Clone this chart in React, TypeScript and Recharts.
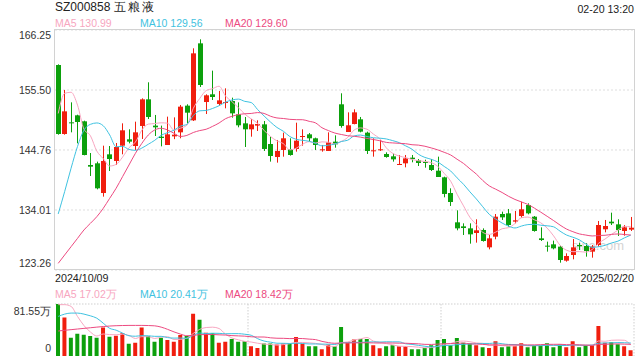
import React from 'react';
import { ComposedChart, Bar, Line, XAxis, YAxis, CartesianGrid, Cell } from 'recharts';

const opens = [159.98,147.62,149.71,150.97,149.89,142.07,142.37,137.05,143.98,142.79,145.53,146.67,145.47,149.06,153.83,149.12,147.14,145.65,147.2,147.92,152.70,150.07,163.86,153.35,154.73,153.00,153.23,153.53,151.14,149.53,148.46,149.12,149.35,145.83,143.50,144.76,144.88,144.94,147.08,147.56,146.85,144.70,144.58,146.25,152.94,147.98,149.41,150.25,147.86,144.58,144.70,144.04,143.62,142.07,142.37,143.38,142.91,142.61,142.07,141.05,139.86,137.05,131.80,131.08,130.72,129.89,130.43,127.32,129.23,133.29,133.41,131.92,132.93,134.90,132.81,128.93,127.62,127.86,127.44,124.93,125.95,127.74,127.56,126.55,127.74,130.55,131.92,131.44,130.25,130.49];
const highs = [160.1,155.50,153.29,151.08,150.01,144.22,142.67,145.53,145.47,146.01,149.53,148.46,149.83,154.01,156.88,151.03,149.12,150.73,150.6,152.82,152.94,162.97,164.58,154.73,158.97,155.32,155.80,154.13,153.29,150.67,150.31,150.07,149.95,147.14,146.55,147.86,146.85,149.65,148.46,147.80,146.97,145.65,147.92,147.38,154.91,151.50,152.04,150.67,148.04,146.85,146.55,144.34,144.10,143.86,143.86,143.86,143.14,143.02,143.14,143.56,139.98,137.89,133.95,131.62,131.62,132.34,130.72,129.53,133.29,133.71,134.19,133.83,135.50,135.20,132.93,130.90,128.34,128.52,127.62,126.25,128.81,128.16,128.04,127.74,132.04,132.22,133.53,132.34,131.32,132.76];
const lows = [147.5,147.50,147.92,145.95,143.80,140.10,137.71,136.40,140.99,142.07,143.98,145.95,144.76,146.73,150.31,147.26,145.41,145.65,146.7,146.85,149.53,149.95,156.04,151.20,153.71,152.70,152.22,150.55,148.82,145.29,147.14,148.16,144.58,142.67,142.49,143.56,143.74,144.46,145.53,146.25,144.76,144.46,144.58,145.17,148.76,147.98,149.35,147.92,144.04,143.56,144.58,143.38,142.67,142.07,141.65,142.55,141.89,141.59,140.99,139.92,136.28,134.73,130.37,129.53,127.98,128.16,128.34,126.96,128.76,132.22,131.02,131.62,132.63,133.23,130.13,128.46,126.55,126.96,124.57,124.75,125.17,126.84,125.65,125.47,127.44,130.01,131.32,129.35,129.41,130.25];
const closes = [147.62,151.68,149.53,149.77,143.86,141.77,137.89,142.79,143.14,145.29,148.28,146.25,147.92,153.83,150.67,148.82,146.91,147.56,147.5,152.52,151.44,162.07,156.40,154.55,154.25,153.65,153.35,151.32,149.18,148.46,149.35,149.41,144.94,143.68,144.58,146.85,143.86,146.43,147.26,146.85,145.65,144.88,146.13,145.77,149.06,149.18,151.50,148.04,144.58,144.70,144.88,143.50,143.08,142.25,143.26,143.14,142.43,142.43,141.17,139.92,136.88,135.44,130.72,130.78,129.65,130.37,128.46,128.93,132.81,132.69,131.32,132.16,134.13,133.41,130.25,128.63,127.44,127.14,125.05,125.77,127.32,127.50,126.66,127.44,131.32,131.14,131.62,130.43,130.90,130.84];
const volumes = [81.55,60.4,28.6,34.9,33.4,31.2,28.6,44.5,30.2,31.8,35.5,19.1,20.7,44.5,31.2,22.2,28.6,24.9,22.2,32.8,31.2,66.2,56.7,36.5,35.5,20.7,22.2,26.5,22.2,23.3,15.4,12.7,19.6,19.6,18.0,19.6,19.6,29.7,19.1,15.4,15.4,10.6,18.0,15.4,45.5,20.7,25.9,26.5,26.5,16.9,12.2,15.4,16.9,15.4,15.4,10.6,10.6,12.7,16.9,24.9,26.5,16.9,28.1,20.7,19.6,16.9,13.8,12.7,23.3,13.8,15.4,15.4,20.1,13.8,16.9,16.9,20.1,13.8,18.0,13.8,23.3,13.8,16.9,16.9,47.1,20.7,21.7,18.5,15.4,9.0];

// moving-average values for the first days (their windows reach before the first shown day)
const ma5Start = [151.3,154.9,155.1,152.8];
const ma10Start = [133.3,137.3,141.5,145.4,148.3,149.35,149.6,149.1,147.45];
const ma20Start = [124.45,125.95,127.44,128.93,130.43,131.62,132.81,134.31,136.1,137.9,139.98,142.07,144.16,145.95,147.44,148.34,148.64,148.34,147.74];
const vma5Start = [80.5,80.5,77.8,62];
const vma10Start = [62,65.7,67.3,67.3,65.7,63,59.3,51.4,43.4];
const vma20Start = [39.2,40.3,41.3,42.3,43.3,44.3,45.3,46.2,47,47.5,47.8,48,48,48,47.8,47.3,45.3,41.8,37.8];

const priceTicks = [123.26,134.01,144.76,155.50,166.25];
const volumeTicks = [0,81.55];
const dateLabels = ['2024/10/09','2025/02/20'];
const titleCode = 'SZ000858';
const titleName = '五粮液';
const timeLabel = '02-20 13:20';
const priceLegend = [['MA5','130.99'],['MA10','129.56'],['MA20','129.60']];
const volumeLegend = [['MA5','17.02万'],['MA10','20.41万'],['MA20','18.42万']];

const RED = '#f01e0e';
const GREEN = '#0ca00c';
const MA_COLORS = ['#f7a6c0','#3fc2e0','#ec4a80'];
const FONT = 'Arial, "Liberation Sans", sans-serif';

function movingAverage(values: number[], n: number, start: number[]) {
  return values.map((_, i) => {
    if (i < n - 1) return start[i];
    let s = 0;
    for (let k = i - n + 1; k <= i; k++) s += values[k];
    return s / n;
  });
}

const ma5 = movingAverage(closes, 5, ma5Start);
const ma10 = movingAverage(closes, 10, ma10Start);
const ma20 = movingAverage(closes, 20, ma20Start);
const vma5 = movingAverage(volumes, 5, vma5Start);
const vma10 = movingAverage(volumes, 10, vma10Start);
const vma20 = movingAverage(volumes, 20, vma20Start);

const data = opens.map((o, i) => ({
  i,
  open: o,
  high: highs[i],
  low: lows[i],
  close: closes[i],
  range: [lows[i], highs[i]],
  vol: volumes[i],
  ma5: ma5[i],
  ma10: ma10[i],
  ma20: ma20[i],
  vma5: vma5[i],
  vma10: vma10[i],
  vma20: vma20[i],
}));

const Candle = (props: any) => {
  const { x, y, width, height, payload } = props;
  if (payload == null || x == null) return null;
  const top = Math.min(y, y + height);
  const h = Math.abs(height);
  const { open, close, high, low } = payload;
  const ppu = h / (high - low || 1);
  const color = close >= open ? RED : GREEN;
  const bTop = top + (high - Math.max(open, close)) * ppu;
  const bH = Math.max(1, Math.abs(open - close) * ppu);
  const cx = Math.floor(x + width / 2) + 0.5;
  return (
    <g>
      <line x1={cx} x2={cx} y1={top} y2={top + h} stroke={color} strokeWidth={1} />
      <rect x={Math.round(x)} y={bTop} width={Math.round(width)} height={bH} fill={color} />
    </g>
  );
};

const PriceTick = (props: any) => {
  const { y, payload } = props;
  const v = payload.value;
  let dy = 3.8;
  if (v === priceTicks[priceTicks.length - 1]) dy = 8.8;
  if (v === priceTicks[0]) dy = -3.2;
  return (
    <text x={51} y={y + dy} textAnchor="end" fontSize={10.5} fill="#333" fontFamily={FONT}>
      {v.toFixed(2)}
    </text>
  );
};

const VolTick = (props: any) => {
  const { y, payload } = props;
  const v = payload.value;
  const isTop = v === volumeTicks[volumeTicks.length - 1];
  return (
    <text x={51} y={y + (isTop ? 11 : -4)} textAnchor="end" fontSize={10.5} fill="#333" fontFamily={FONT}>
      {isTop ? v.toFixed(2) + '万' : String(v)}
    </text>
  );
};

const legendX = [55, 140, 225];

export default function App() {
  return (
    <div style={{ position: 'absolute', left: 0, top: 0, width: 640, height: 360, background: '#fff', fontFamily: FONT, overflow: 'hidden' }}>
      <div style={{ position: 'absolute', left: 55, top: 0, fontSize: 12, lineHeight: '14px', color: '#222', whiteSpace: 'nowrap' }}>
        {titleCode} <span style={{ letterSpacing: 2 }}>{titleName}</span>
      </div>
      <div style={{ position: 'absolute', right: 6, top: 2, fontSize: 10.6, lineHeight: '14px', color: '#222' }}>{timeLabel}</div>
      {priceLegend.map((l, k) => (
        <div key={k} style={{ position: 'absolute', left: legendX[k], top: 16, fontSize: 10.5, lineHeight: '14px', color: MA_COLORS[k], whiteSpace: 'nowrap' }}>
          {l[0]} {l[1]}
        </div>
      ))}
      <div style={{ position: 'absolute', left: 572, top: 238, fontSize: 13, lineHeight: '16px', color: '#d4d4d4' }}>sina.com</div>
      <div style={{ position: 'absolute', left: 0, top: 0 }}>
        <ComposedChart width={640} height={280} data={data} margin={{ top: 30, right: 6, bottom: 10, left: 0 }}>
          <CartesianGrid vertical={false} stroke="#dedede" strokeDasharray="2 2" />
          <XAxis dataKey="i" type="category" hide />
          <YAxis
            domain={[priceTicks[0], priceTicks[priceTicks.length - 1]]}
            ticks={priceTicks}
            allowDataOverflow
            width={55}
            axisLine={false}
            tickLine={false}
            tick={<PriceTick />}
            interval={0}
          />
          <Bar dataKey="range" barSize={5} shape={<Candle />} isAnimationActive={false} />
          <Line type="monotone" dataKey="ma5" stroke={MA_COLORS[0]} strokeWidth={1} dot={false} isAnimationActive={false} />
          <Line type="monotone" dataKey="ma10" stroke={MA_COLORS[1]} strokeWidth={1} dot={false} isAnimationActive={false} />
          <Line type="monotone" dataKey="ma20" stroke={MA_COLORS[2]} strokeWidth={1} dot={false} isAnimationActive={false} />
        </ComposedChart>
      </div>
      <div style={{ position: 'absolute', left: 54, top: 29, width: 581, height: 241, boxSizing: 'border-box', border: '1px solid #d2d2d2', pointerEvents: 'none' }} />
      <div style={{ position: 'absolute', left: 55, top: 272, fontSize: 10.7, lineHeight: '13px', color: '#222' }}>{dateLabels[0]}</div>
      <div style={{ position: 'absolute', right: 6, top: 272, fontSize: 10.7, lineHeight: '13px', color: '#222' }}>{dateLabels[1]}</div>
      {volumeLegend.map((l, k) => (
        <div key={k} style={{ position: 'absolute', left: legendX[k], top: 287, fontSize: 10.5, lineHeight: '14px', color: MA_COLORS[k], whiteSpace: 'nowrap' }}>
          {l[0]} {l[1]}
        </div>
      ))}
      <div style={{ position: 'absolute', left: 0, top: 300 }}>
        <ComposedChart width={640} height={60} data={data} margin={{ top: 4, right: 6, bottom: 4, left: 0 }}>
          <CartesianGrid horizontalPoints={[4]} verticalPoints={[248, 441, 634]} stroke="#cfcfcf" strokeDasharray="1.5 1.5" />
          <XAxis dataKey="i" type="category" hide />
          <YAxis
            domain={[volumeTicks[0], volumeTicks[1]]}
            ticks={volumeTicks}
            allowDataOverflow
            width={55}
            axisLine={false}
            tickLine={false}
            tick={<VolTick />}
            interval={0}
          />
          <Bar dataKey="vol" barSize={4} isAnimationActive={false}>
            {data.map((d, k) => (
              <Cell key={k} fill={d.close >= d.open ? RED : GREEN} />
            ))}
          </Bar>
          <Line type="monotone" dataKey="vma5" stroke={MA_COLORS[0]} strokeWidth={1} dot={false} isAnimationActive={false} />
          <Line type="monotone" dataKey="vma10" stroke={MA_COLORS[1]} strokeWidth={1} dot={false} isAnimationActive={false} />
          <Line type="monotone" dataKey="vma20" stroke={MA_COLORS[2]} strokeWidth={1} dot={false} isAnimationActive={false} />
        </ComposedChart>
      </div>
    </div>
  );
}
